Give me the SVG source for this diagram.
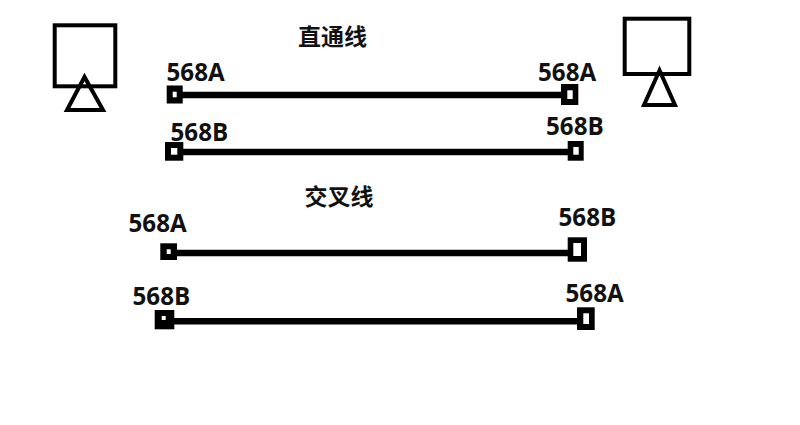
<svg xmlns="http://www.w3.org/2000/svg" width="800" height="425" viewBox="0 0 800 425">
<style>
.lb{font-family:"Open Sans","Noto Sans","Noto Sans CJK SC",sans-serif;font-weight:700;font-size:24.2px;fill:#111}
.tt{font-family:"Noto Sans CJK SC",sans-serif;font-weight:700;font-size:23px;fill:#111}
.o{fill:none;stroke:#000;stroke-linejoin:miter;stroke-width:4}
.w{stroke:#000;stroke-width:6.4;fill:none}
.h{fill:#fff}
</style>
<rect width="800" height="425" fill="#fff"/>
<g id="device-left"><rect class="o" x="54.7" y="25.3" width="60.6" height="61"/><path class="o" d="M84.5 77 L67 110 H103 Z"/></g>
<g id="device-right"><rect class="o" x="624.7" y="18.7" width="64.6" height="55.3"/><path class="o" d="M659.5 70.500 L644 105 H675 Z"/></g>
<g id="connectors">
<path class="w" d="M180 95H565"/>
<path class="w" d="M180 152H570"/>
<path class="w" d="M175 253H570"/>
<path class="w" d="M172 321.300H580"/>
</g>
<g id="title-straight"><text class="tt" x="298" y="45">直通线</text></g>
<g id="title-cross"><text class="tt" x="304.500" y="205">交叉线</text></g>
<g id="end-a1-left"><text class="lb" x="166.500" y="80.500">568A</text><rect x="166.700" y="85.500" width="16" height="18"/><rect class="h" x="172.700" y="91.700" width="4" height="5.600"/></g>
<g id="end-a1-right"><text class="lb" x="538" y="80.500">568A</text><rect x="561" y="84" width="17.300" height="21"/><rect class="h" x="567.300" y="90.300" width="5.400" height="8.700"/></g>
<g id="end-b1-left"><text class="lb" x="170.500" y="140.500">568B</text><rect x="165" y="142" width="18.300" height="18.700"/><rect class="h" x="171" y="148" width="6.300" height="6.700"/></g>
<g id="end-b1-right"><text class="lb" x="546" y="134.800">568B</text><rect x="567.700" y="141" width="16" height="19.700"/><rect class="h" x="573.300" y="147" width="5.400" height="7.700"/></g>
<g id="end-a2-left"><text class="lb" x="128.500" y="232">568A</text><rect x="160.300" y="243.300" width="16.700" height="16.700"/><rect class="h" x="166.700" y="249.300" width="4" height="4.700"/></g>
<g id="end-b2-right"><text class="lb" x="558.500" y="226">568B</text><rect x="567.700" y="237.300" width="19.300" height="24.400"/><rect class="h" x="573.300" y="243" width="7.700" height="13"/></g>
<g id="end-b2-left"><text class="lb" x="132.500" y="304.800">568B</text><rect x="154.700" y="310" width="19.600" height="19.300"/><rect class="h" x="161.700" y="316" width="4" height="4"/></g>
<g id="end-a2-right"><text class="lb" x="565.500" y="302">568A</text><rect x="577" y="307.300" width="17.700" height="22.700"/><rect class="h" x="583.300" y="313.300" width="5.700" height="10.700"/></g>
</svg>
